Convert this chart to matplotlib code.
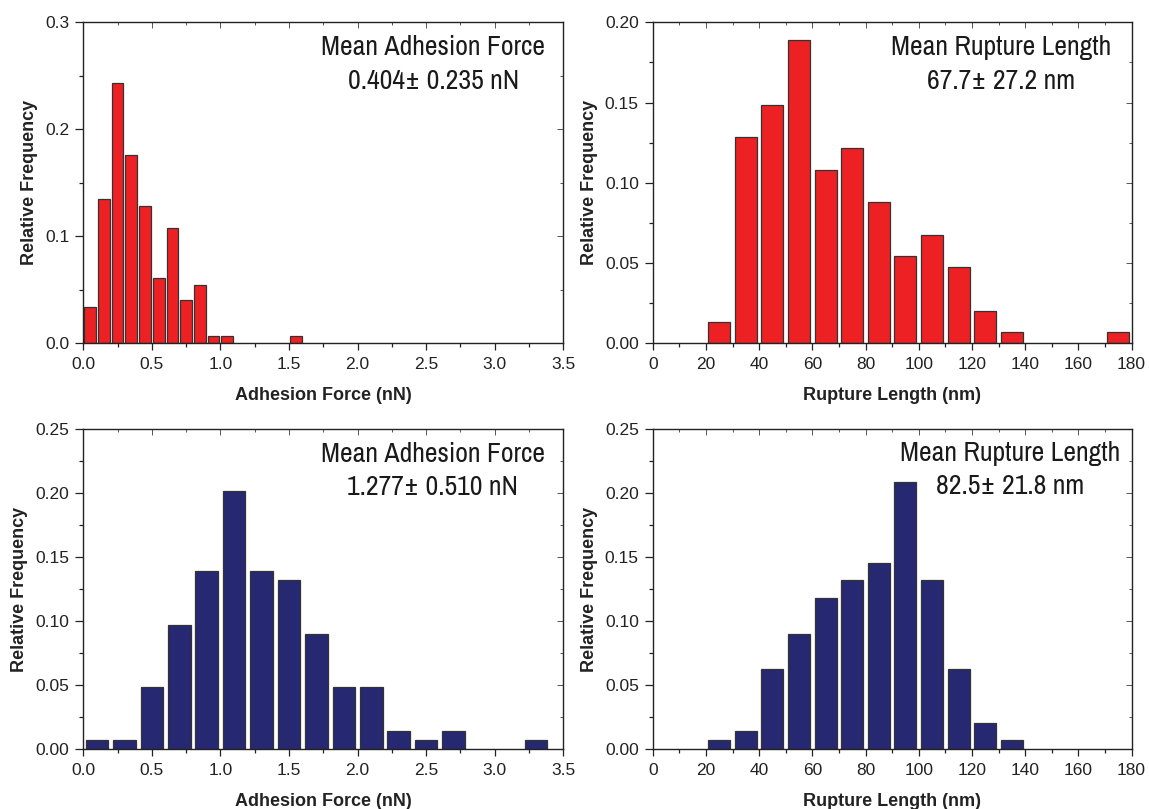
import matplotlib
matplotlib.use("Agg")
import matplotlib.pyplot as plt
import numpy as np
from matplotlib.ticker import MultipleLocator, FormatStrFormatter

plt.rcParams['font.family'] = ['Liberation Sans', 'DejaVu Sans']

# ---- data ----
# Top-left: adhesion force (red), bin width 0.1 nN
force1_centers = [0.05, 0.15, 0.25, 0.35, 0.45, 0.55, 0.65, 0.75, 0.85, 0.95, 1.05, 1.55]
force1_freq = [0.0338, 0.1351, 0.2432, 0.1757, 0.1284, 0.0608, 0.1081, 0.0405, 0.0541, 0.0068, 0.0068, 0.0068]

# Top-right: rupture length (red), bin width 10 nm
length1_centers = [25, 35, 45, 55, 65, 75, 85, 95, 105, 115, 125, 135, 175]
length1_freq = [0.0135, 0.1284, 0.1486, 0.1892, 0.1081, 0.1216, 0.0878, 0.0541, 0.0676, 0.0473, 0.0203, 0.0068, 0.0068]

# Bottom-left: adhesion force (navy), bin width 0.2 nN
force2_centers = [0.1, 0.3, 0.5, 0.7, 0.9, 1.1, 1.3, 1.5, 1.7, 1.9, 2.1, 2.3, 2.5, 2.7, 3.3]
force2_freq = [0.0069, 0.0069, 0.0486, 0.0972, 0.1389, 0.2014, 0.1389, 0.1319, 0.0903, 0.0486, 0.0486, 0.0139, 0.0069, 0.0139, 0.0069]

# Bottom-right: rupture length (navy), bin width 10 nm
length2_centers = [25, 35, 45, 55, 65, 75, 85, 95, 105, 115, 125, 135]
length2_freq = [0.0069, 0.0139, 0.0625, 0.0903, 0.1181, 0.1319, 0.1458, 0.2083, 0.1319, 0.0625, 0.0208, 0.0069]

annot_titles = ["Mean Adhesion Force", "Mean Rupture Length", "Mean Adhesion Force", "Mean Rupture Length"]
annot_values = ["0.404\u00b1 0.235 nN", "67.7\u00b1 27.2 nm", "1.277\u00b1 0.510 nN", "82.5\u00b1 21.8 nm"]
xlabels = ["Adhesion Force (nN)", "Rupture Length (nm)", "Adhesion Force (nN)", "Rupture Length (nm)"]

RED = "#ED2024"
NAVY = "#262872"
ANNOT_FONT = ["Archivo Narrow", "Liberation Sans"]

W, H = 1149, 809
fig = plt.figure(figsize=(W / 100, H / 100), dpi=100)

def px_axes(l, t, r, b):
    return fig.add_axes([l / W, 1 - b / H, (r - l) / W, (b - t) / H])

ax1 = px_axes(83.3, 22.3, 563.3, 343.3)
ax2 = px_axes(652.7, 22.3, 1131.5, 343.3)
ax3 = px_axes(83.3, 429.0, 563.3, 749.3)
ax4 = px_axes(652.7, 429.0, 1131.5, 749.3)

specs = [
    (ax1, force1_centers, force1_freq, 0.086, RED, (0, 3.5), (0, 0.3), 0.5, 0.25, 0.1, 0.05, "%.1f", (0.729, 0.920, 0.817)),
    (ax2, length1_centers, length1_freq, 8.2, RED, (0, 180), (0, 0.20), 20, 10, 0.05, 0.025, "%.2f", (0.728, 0.920, 0.817)),
    (ax3, force2_centers, force2_freq, 0.165, NAVY, (0, 3.5), (0, 0.25), 0.5, 0.25, 0.05, 0.025, "%.2f", (0.728, 0.919, 0.816)),
    (ax4, length2_centers, length2_freq, 8.2, NAVY, (0, 180), (0, 0.25), 20, 10, 0.05, 0.025, "%.2f", (0.746, 0.924, 0.820)),
]

for i, (ax, xs, ys, bw, col, xlim, ylim, xmaj, xmin, ymaj, ymin, yfmt, tpos) in enumerate(specs):
    ax.bar(xs, ys, width=bw, color=col, edgecolor="#333333", linewidth=0.9, zorder=2)
    ax.set_xlim(*xlim)
    ax.set_ylim(*ylim)
    ax.xaxis.set_major_locator(MultipleLocator(xmaj))
    ax.xaxis.set_minor_locator(MultipleLocator(xmin))
    ax.yaxis.set_major_locator(MultipleLocator(ymaj))
    ax.yaxis.set_minor_locator(MultipleLocator(ymin))
    ax.xaxis.set_major_formatter(FormatStrFormatter("%d" if xmaj >= 1 else "%.1f"))
    ax.yaxis.set_major_formatter(FormatStrFormatter(yfmt))
    for s in ax.spines.values():
        s.set_linewidth(1.0)
        s.set_color("#222222")
    ax.tick_params(which="both", direction="out", labelsize=12.5, labelcolor="#222222",
                   color="#222222", width=0.9)
    ax.tick_params(axis="x", which="major", length=5, pad=5)
    ax.tick_params(axis="y", which="major", length=6, pad=4)
    ax.tick_params(which="minor", length=3)
    # top/right ticks inward, no labels
    axt = ax.secondary_xaxis("top")
    axt.xaxis.set_major_locator(MultipleLocator(xmaj))
    axt.xaxis.set_minor_locator(MultipleLocator(xmin))
    axt.tick_params(which="both", direction="in", labeltop=False, color="#555555", width=0.7)
    axt.tick_params(which="major", length=4)
    axt.tick_params(which="minor", length=2.5)
    axr = ax.secondary_yaxis("right")
    axr.yaxis.set_major_locator(MultipleLocator(ymaj))
    axr.yaxis.set_minor_locator(MultipleLocator(ymin))
    axr.tick_params(which="both", direction="in", labelright=False, color="#555555", width=0.7)
    axr.tick_params(which="major", length=4)
    axr.tick_params(which="minor", length=2.5)
    axt.spines["top"].set_visible(False)
    axr.spines["right"].set_visible(False)

    ax.set_xlabel(xlabels[i], fontsize=13, fontweight="bold", color="#222222", labelpad=11)
    ax.set_ylabel("Relative Frequency", fontsize=13, fontweight="bold", color="#222222", labelpad=5)

    tx, ty1, ty2 = tpos
    ax.text(tx, ty1, annot_titles[i], transform=ax.transAxes, ha="center", va="center",
            fontsize=20, family=ANNOT_FONT, color="#1a1a1a")
    ax.text(tx, ty2, annot_values[i], transform=ax.transAxes, ha="center", va="center",
            fontsize=20, family=ANNOT_FONT, color="#1a1a1a")

fig.savefig("out.png", dpi=100, facecolor="white")
